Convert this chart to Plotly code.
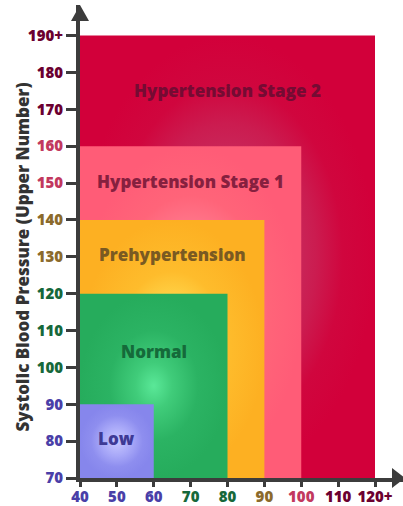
import plotly.graph_objects as go

# ---- data ----
categories = ["Hypertension Stage 2", "Hypertension Stage 1", "Prehypertension", "Normal", "Low"]
diastolic_upper = [120, 100, 90, 80, 60]      # x extent of each zone (from 40)
systolic_upper = [190, 160, 140, 120, 90]     # y extent of each zone (from 70)
label_y = [175, 150.3, 130.6, 104.2, 80.6]    # vertical position of zone labels
x_min, y_min = 40, 70

x_tickvals = [40, 50, 60, 70, 80, 90, 100, 110, 120]
x_ticklabels = ["40", "50", "60", "70", "80", "90", "100", "110", "120+"]
y_tickvals = [70, 80, 90, 100, 110, 120, 130, 140, 150, 160, 170, 180, 190]
y_ticklabels = ["70", "80", "90", "100", "110", "120", "130", "140", "150", "160", "170", "180", "190+"]

# ---- styles ----
zone_scales = [
    [[0, "#C2306A"], [0.4, "#C82C5E"], [0.6, "#CB1C50"], [0.78, "#D0063E"], [1, "#D2003A"]],
    [[0, "#FF98AA"], [0.46, "#FF7C90"], [0.7, "#FF6479"], [1, "#FF5C77"]],
    [[0, "#FFE870"], [0.33, "#FFD84E"], [0.6, "#FEBC2C"], [1, "#FDB022"]],
    [[0, "#5AE898"], [0.25, "#40CC7A"], [0.6, "#2BB363"], [1, "#26AC5C"]],
    [[0, "#C8C8FF"], [0.4, "#A8A8F8"], [0.7, "#8E8EEF"], [1, "#8686EC"]],
]
label_colors = ["#750B33", "#86203F", "#7A5A22", "#156A3A", "#3E3A95"]
tick_colors = {"maroon": "#6B0030", "pink": "#C2385E", "brown": "#8B6A2B",
               "green": "#16683A", "blue": "#4A3FA8"}
x_tick_color_keys = ["blue", "blue", "blue", "green", "green", "brown", "pink", "maroon", "maroon"]
y_tick_color_keys = ["blue", "blue", "blue", "green", "green", "green", "brown", "brown",
                     "pink", "pink", "maroon", "maroon", "maroon"]

W, H = 403, 506
ML, MR, MT, MB = 80, 0, 5, 28
px_per_unit = 3.6875
plot_w, plot_h = W - ML - MR, H - MT - MB
x_range = [x_min, x_min + plot_w / px_per_unit]
y_range = [y_min, y_min + plot_h / px_per_unit]
font_family = "Open Sans"
axis_color = "#3c3c3c"

fig = go.Figure()
for name, xu, yu, cs in zip(categories, diastolic_upper, systolic_upper, zone_scales):
    fig.add_trace(go.Scatter(
        x=[x_min, xu, xu, x_min, x_min],
        y=[y_min, y_min, yu, yu, y_min],
        mode="lines", fill="toself", line=dict(width=0),
        fillcolor=cs[-1][1],
        fillgradient=dict(type="radial", colorscale=cs),
        hoverinfo="skip", showlegend=False, name=name,
    ))

for name, xu, ly, col in zip(categories, diastolic_upper, label_y, label_colors):
    fig.add_annotation(
        x=(x_min + xu) / 2, y=ly, text=name, showarrow=False,
        xanchor="center", yanchor="middle",
        font=dict(family=font_family, size=17, color=col, weight=800),
    )

x_ticktext = [f'<span style="color:{tick_colors[k]}">{t}</span>' for t, k in zip(x_ticklabels, x_tick_color_keys)]
y_ticktext = [f'<span style="color:{tick_colors[k]}">{t}</span>' for t, k in zip(y_ticklabels, y_tick_color_keys)]

fig.update_xaxes(
    range=x_range, showgrid=False, zeroline=False, automargin=False,
    showline=True, linewidth=4, linecolor=axis_color,
    tickmode="array", tickvals=x_tickvals, ticktext=x_ticktext,
    ticks="outside", ticklen=5, tickwidth=3, tickcolor=axis_color,
    ticklabelstandoff=-3,
    tickfont=dict(family=font_family, size=15, weight=800),
    fixedrange=True,
)
fig.update_yaxes(
    range=y_range, showgrid=False, zeroline=False, automargin=False,
    showline=True, linewidth=4, linecolor=axis_color,
    tickmode="array", tickvals=y_tickvals, ticktext=y_ticktext,
    ticks="outside", ticklen=10, tickwidth=3, tickcolor=axis_color,
    tickfont=dict(family=font_family, size=15, weight=800),
    fixedrange=True,
)

# arrow heads (paper coordinates)
ay_h, ay_w = 16 / plot_h, 9 / plot_w
fig.add_shape(type="path", xref="paper", yref="paper",
              path=f"M {-ay_w},{1 - ay_h} L 0,1 L {ay_w},{1 - ay_h} Z",
              fillcolor=axis_color, line=dict(width=0), layer="above")
ax_l, ax_h = 13 / plot_w, 10 / plot_h
fig.add_shape(type="path", xref="paper", yref="paper",
              path=f"M {1 - ax_l + 2/plot_w},{-ax_h} L {1 + 2/plot_w},0 L {1 - ax_l + 2/plot_w},{ax_h} Z",
              fillcolor=axis_color, line=dict(width=0), layer="above")

fig.add_annotation(
    xref="paper", yref="paper", x=(21.5 - ML) / plot_w, y=(H - MB - 257) / plot_h,
    xanchor="center", yanchor="middle",
    text="Systolic Blood Pressure (Upper Number)", textangle=-90, showarrow=False,
    font=dict(family=font_family, size=17, color="#333333", weight=800),
)

fig.update_layout(
    width=W, height=H, margin=dict(l=ML, r=MR, t=MT, b=MB, autoexpand=False),
    paper_bgcolor="white", plot_bgcolor="white",
    font=dict(family=font_family),
)
fig.write_html("out.html", config={"displayModeBar": False},
               post_script="document.body.style.margin='0';")
